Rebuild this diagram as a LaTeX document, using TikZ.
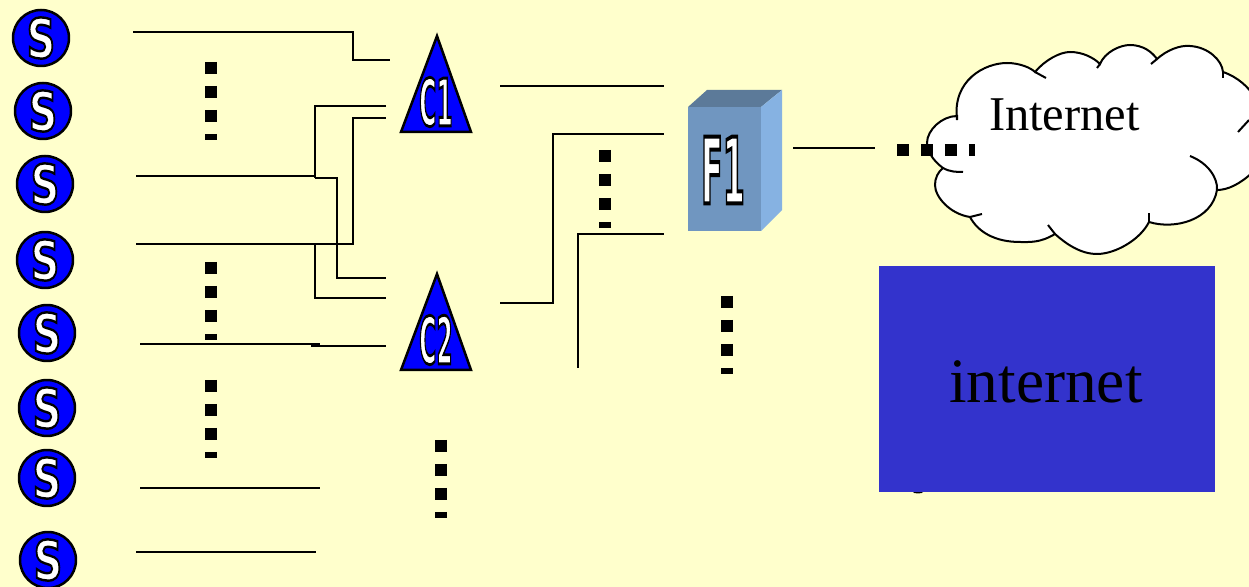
\documentclass[tikz,border=0pt]{standalone}
\usepackage{fontspec}
\setmainfont{Liberation Serif}
\newfontfamily\labelfont{DejaVu Sans}[BoldFont=DejaVu Sans Bold]
\newcommand{\outl}[1]{\special{pdf:code q 2 Tr 0.5 w 0 G 1 g}#1\special{pdf:code Q}}
\definecolor{backcol}{HTML}{FFFFCC}
\definecolor{rectcol}{HTML}{3333CC}
\definecolor{frontcol}{HTML}{7096C0}
\definecolor{topcol}{HTML}{5C7A99}
\definecolor{sidecol}{HTML}{86B2E2}
\begin{document}
\begin{tikzpicture}[x=0.02cm,y=-0.02cm]

    \tikzset{wirestyle/.style={draw,line width=0.04cm}}
    \tikzset{dotstyle/.style={draw,line width=0.24cm,dash pattern=on 0.24cm off 0.24cm}}
    \tikzset{lettersty/.style={font=\labelfont\bfseries\fontsize{11.3pt}{13pt}\selectfont,inner sep=0pt}}
    \tikzset{sletter/.style={lettersty,xscale=2.0,yscale=2.75}}
    \tikzset{stationstyle/.style={draw,line width=0.05cm,shape=circle,fill=blue,minimum size=1.12cm,inner sep=0pt,label={[sletter]center:\outl{S}}}}
    \tikzset{trianglestyle/.style={draw,line width=0.05cm,fill=blue,line join=miter}}
    \tikzset{cloudstyle/.style={line width=0.04cm}}

    \useasboundingbox (0,0) rectangle (1249,587);
    \fill[backcol] (0,0) rectangle (1249,587);

    \node[stationstyle] (s1) at ( 41, 38) {};
    \node[stationstyle] (s2) at ( 43, 111) {};
    \node[stationstyle] (s3) at ( 45, 184) {};
    \node[stationstyle] (s4) at ( 45, 260) {};
    \node[stationstyle] (s5) at ( 47, 333) {};
    \node[stationstyle] (s6) at ( 47, 408) {};
    \node[stationstyle] (s7) at ( 47, 478) {};
    \node[stationstyle] (s8) at ( 48, 560) {};

    % Puntas libres de los cables.
    \coordinate (w1) at (133, 32);
    \coordinate (w2) at (390, 60);
    \coordinate (w3) at (136, 176);
    \coordinate (w4) at (386, 106);
    \coordinate (w5) at (386, 278);
    \coordinate (w6) at (136, 244);
    \coordinate (w7) at (386, 118);
    \coordinate (w8) at (386, 298);
    \coordinate (w9) at (140, 344);
    \coordinate (w10) at (320, 344);
    \coordinate (w11) at (311, 346);
    \coordinate (w12) at (386, 346);
    \coordinate (w13) at (140, 488);
    \coordinate (w14) at (320, 488);
    \coordinate (w15) at (136, 552);
    \coordinate (w16) at (316, 552);
    \coordinate (w17) at (500, 86);
    \coordinate (w18) at (664, 86);
    \coordinate (w19) at (500, 303);
    \coordinate (w20) at (664, 134);
    \coordinate (w21) at (578, 368);
    \coordinate (w22) at (664, 234);
    \coordinate (w23) at (793, 148);
    \coordinate (w24) at (875, 148);

    % Esquinas.
    \coordinate (j1) at (353, 32);
    \coordinate (j2) at (315, 176);
    \coordinate (j3) at (315, 178);
    \coordinate (j4) at (337, 178);
    \coordinate (j5) at (315, 244);
    \coordinate (j6) at (353, 244);
    \coordinate (j7) at (553, 303);

    \begin{scope}[every path/.style={wirestyle}]
        \draw (w1) -- (j1) |- (w2);
        \draw (w3) -- (j2);
        \draw (w4) -| (j3);
        \draw (j3) -- (j4) |- (w5);
        \draw (w6) -- (j6) |- (w7);
        \draw (j5) |- (w8);
        \draw (w9) -- (w10);
        \draw (w11) -- (w12);
        \draw (w13) -- (w14);
        \draw (w15) -- (w16);
        \draw (w17) -- (w18);
        \draw (w19) -- (j7) |- (w20);
        \draw (w21) |- (w22);
        \draw (w23) -- (w24);
    \end{scope}

    % Concentradores.
    \draw[trianglestyle] (437,36) -- (471,132) -- (401,132) -- cycle;
    \draw[trianglestyle] (437,274) -- (471,370) -- (401,370) -- cycle;
    \node[lettersty,xscale=1.18,yscale=3.3] (c1) at (436,102) {\outl{C1}};
    \node[lettersty,xscale=1.18,yscale=3.3] (c2) at (436,340) {\outl{C2}};

    % Caja F1.
    \fill[frontcol] (688,107) rectangle (761,231);
    \fill[topcol] (688,107) -- (707,90) -- (782,90) -- (761,107) -- cycle;
    \fill[sidecol] (761,107) -- (782,90) -- (782,210) -- (761,231) -- cycle;
    \node[lettersty,xscale=1.6,yscale=4.6] (f1) at (723,170) {\outl{F1}};

    % Nube.
    \draw[cloudstyle,fill=white] (957,120)
        .. controls (952,80) and (985,63) .. (1007,63)
        .. controls (1020,63) and (1031,68) .. (1035,72)
        .. controls (1045,60) and (1060,52) .. (1070,52)
        .. controls (1083,52) and (1094,58) .. (1100,64)
        .. controls (1105,52) and (1120,45) .. (1130,45)
        .. controls (1143,45) and (1152,52) .. (1157,59)
        .. controls (1167,50) and (1180,45) .. (1190,46)
        .. controls (1208,47) and (1222,60) .. (1223,72)
        .. controls (1238,77) and (1249,88) .. (1253,95)
        -- (1253,172)
        .. controls (1240,184) and (1228,190) .. (1217,190)
        .. controls (1212,220) and (1175,230) .. (1149,222)
        .. controls (1140,240) and (1115,254) .. (1097,254)
        .. controls (1080,254) and (1065,243) .. (1055,234)
        .. controls (1040,243) and (1030,242) .. (1020,242)
        .. controls (995,242) and (978,232) .. (970,217)
        .. controls (950,214) and (935,197) .. (935,185)
        .. controls (935,178) and (938,172) .. (943,168)
        .. controls (932,160) and (927,150) .. (927,143)
        .. controls (927,130) and (942,116) .. (957,116)
        -- cycle;
    \draw[cloudstyle] (1035,72) -- (1046,78);
    \draw[cloudstyle] (1100,64) -- (1097,68);
    \draw[cloudstyle] (1157,59) -- (1151,64);
    \draw[cloudstyle] (1223,72) -- (1223,78);
    \draw[cloudstyle] (1238,132) -- (1249,120);
    \draw[cloudstyle] (1190,156) .. controls (1208,163) and (1218,178) .. (1217,190);
    \draw[cloudstyle] (1149,222) -- (1149,213);
    \draw[cloudstyle] (1055,234) -- (1048,225);
    \draw[cloudstyle] (970,217) -- (982,214);
    \draw[cloudstyle] (943,168) .. controls (950,172) and (957,172) .. (963,172);
    \node[font=\fontsize{27.6pt}{32pt}\selectfont,inner sep=0pt,anchor=base] (inet) at (1064.5,131) {Internet};

    % Puntos suspensivos.
    \coordinate (d1) at (211, 62);
    \coordinate (d2) at (211, 140);
    \coordinate (d3) at (211, 262);
    \coordinate (d4) at (211, 340);
    \coordinate (d5) at (211, 380);
    \coordinate (d6) at (211, 458);
    \coordinate (d7) at (441, 440);
    \coordinate (d8) at (441, 518);
    \coordinate (d9) at (605, 150);
    \coordinate (d10) at (605, 228);
    \coordinate (d11) at (727, 296);
    \coordinate (d12) at (727, 374);
    \coordinate (d13) at (897, 150);
    \coordinate (d14) at (975, 150);
    \begin{scope}[every path/.style={dotstyle}]
        \draw (d1) -- (d2);
        \draw (d3) -- (d4);
        \draw (d5) -- (d6);
        \draw (d7) -- (d8);
        \draw (d9) -- (d10);
        \draw (d11) -- (d12);
        \draw (d13) -- (d14);
    \end{scope}

    % Rectangulo.
    \fill[black] (918,492) ellipse (5 and 1.5);
    \fill[rectcol] (879,266) rectangle (1215,492);
    \node[font=\fontsize{36pt}{42pt}\selectfont,inner sep=0pt,anchor=base] (rect) at (1046,403) {internet};

\end{tikzpicture}
\end{document}
